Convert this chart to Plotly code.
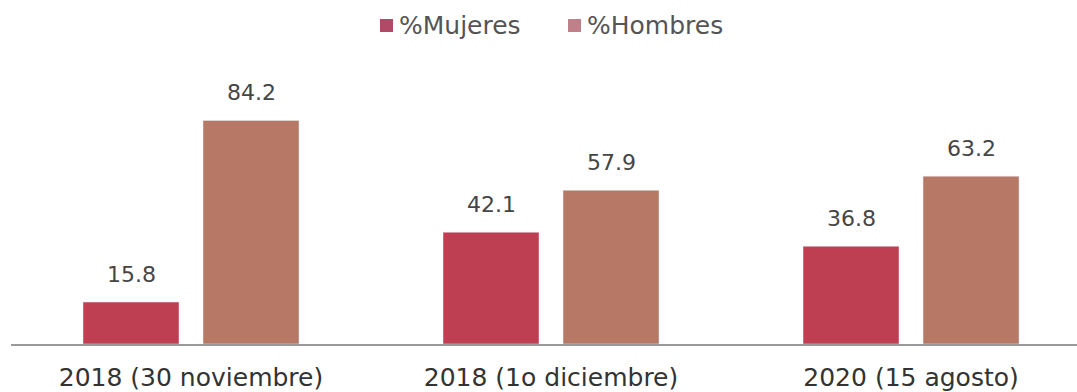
import plotly.graph_objects as go

# Categories and shares (%) by sex
periodos = ["2018 (30 noviembre)", "2018 (1o diciembre)", "2020 (15 agosto)"]
mujeres = [15.8, 42.1, 36.8]
hombres = [84.2, 57.9, 63.2]
series_names = ["%Mujeres", "%Hombres"]

COLOR_MUJERES = "#BE3E52"
COLOR_HOMBRES = "#B77866"
LEGEND_COLORS = ["#B04A66", "#C0808A"]
FONT = "DejaVu Sans"

# Plot-area geometry (pixels) used to place the hand-drawn legend
W, H = 1077, 392
ML, MR, MT, MB = 11, 0, 105, 48
PW, PH = W - ML - MR, H - MT - MB


def px_x(px):
    return (px - ML) / PW


def px_y(py):
    return (H - MB - py) / PH


fig = go.Figure()
fig.add_trace(go.Bar(name=series_names[0], x=periodos, y=mujeres,
                     marker_color=COLOR_MUJERES, showlegend=False))
fig.add_trace(go.Bar(name=series_names[1], x=periodos, y=hombres,
                     marker_color=COLOR_HOMBRES, showlegend=False))

# Value labels above each bar (grouped offsets: slot width = 1/3 of a category)
annotations = []
for i, (m, h) in enumerate(zip(mujeres, hombres)):
    for off, v in ((-1 / 6, m), (1 / 6, h)):
        annotations.append(dict(
            x=i + off, y=v, xref="x", yref="y", text=f"{v:.1f}",
            showarrow=False, yanchor="middle", yshift=28,
            font=dict(family=FONT, size=22, color="#454545"),
        ))

# Legend: square swatch followed by series name
shapes = []
legend_x = [380, 568]
for name, color, x0 in zip(series_names, LEGEND_COLORS, legend_x):
    shapes.append(dict(type="rect", xref="paper", yref="paper",
                       x0=px_x(x0), x1=px_x(x0 + 13),
                       y0=px_y(32), y1=px_y(19),
                       fillcolor=color, line_width=0))
    annotations.append(dict(x=px_x(x0 + 17), y=px_y(25.5), xref="paper",
                            yref="paper", text=name, showarrow=False,
                            xanchor="left", yanchor="middle",
                            font=dict(family=FONT, size=25, color="#555555")))

fig.update_layout(
    width=W, height=H,
    margin=dict(l=ML, r=MR, t=MT, b=MB),
    paper_bgcolor="white", plot_bgcolor="white",
    barmode="group", bargap=1 / 3, bargroupgap=0.2,
    font=dict(family=FONT, color="#333333"),
    annotations=annotations, shapes=shapes,
    showlegend=False,
)
fig.update_xaxes(range=[-0.5, 2.461], showline=True, linecolor="#9a9a9a",
                 linewidth=2, ticks="", showgrid=False,
                 ticklabelstandoff=10,
                 tickfont=dict(family=FONT, size=25, color="#333333"))
fig.update_yaxes(range=[0, 90], visible=False, showgrid=False)

fig.write_html("out.html")
